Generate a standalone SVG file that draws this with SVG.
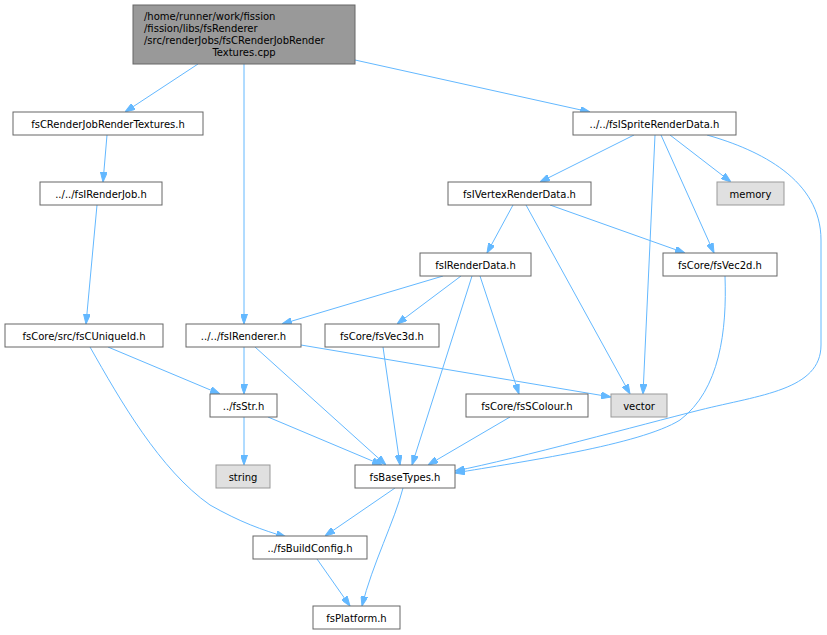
<svg xmlns="http://www.w3.org/2000/svg" width="827" height="635" viewBox="0 0 827 635">
<style>
.n rect{fill:#ffffff;stroke:#666666;stroke-width:1}
.n.g rect{fill:#e0e0e0;stroke:#999999}
.n.top rect{fill:#999999;stroke:#666666}
text{font-family:"DejaVu Sans","Liberation Sans",sans-serif;font-size:10px;fill:#000000}
.c{text-anchor:middle}
#edges path{fill:none;stroke:#63b8ff;stroke-width:1;marker-end:url(#arr)}
</style>
<defs>
<marker id="arr" viewBox="0 0 10 7" refX="10" refY="3.5" markerWidth="10" markerHeight="7" markerUnits="userSpaceOnUse" orient="auto">
<path d="M0,0 L10,3.5 L0,7 z" fill="#63b8ff" stroke="#63b8ff"/>
</marker>
</defs>
<rect width="827" height="635" fill="#ffffff"/>
<g id="edges">
<path d="M198,64 L125,112"/>
<path d="M244,64 L244,324"/>
<path d="M355,60 L590,112"/>
<path d="M107,135 L103,182"/>
<path d="M97,205 L86,324"/>
<path d="M108,347 L220,394"/>
<path d="M90,347 C120,400 160,470 210,505 C240,522 262,530 286,537"/>
<path d="M244,347 L244,394"/>
<path d="M255,347 L386,465"/>
<path d="M301,345 L611,397"/>
<path d="M244,417 L244,465"/>
<path d="M268,417 L382,465"/>
<path d="M395,488 L325,536"/>
<path d="M403,488 C395,520 372,565 362,606"/>
<path d="M317,559 L350,606"/>
<path d="M634,135 L540,182"/>
<path d="M655,135 L643,394"/>
<path d="M661,135 L714,253"/>
<path d="M670,135 L731,182"/>
<path d="M707,135 C760,150 821,180 821,240 L821,345 C821,390 760,395 700,410 C640,425 520,458 455,471"/>
<path d="M513,205 L487,253"/>
<path d="M526,205 L630,394"/>
<path d="M550,205 L685,253"/>
<path d="M725,276 C727,330 720,390 680,420 C640,445 520,462 455,473"/>
<path d="M443,276 L282,324"/>
<path d="M461,276 L397,324"/>
<path d="M472,276 L412,465"/>
<path d="M480,276 L519,394"/>
<path d="M383,347 L400,465"/>
<path d="M510,417 L428,465"/>
</g>
<g id="n_top" class="n top"><rect x="133" y="5" width="222" height="59"/>
<text x="144" y="19.5">/home/runner/work/fission</text>
<text x="144" y="31.5">/fission/libs/fsRenderer</text>
<text x="144" y="43.5">/src/renderJobs/fsCRenderJobRender</text>
<text x="244" y="55.5" class="c">Textures.cpp</text></g>
<g id="n_rjrt" class="n"><rect x="13" y="112" width="190" height="23"/><text x="108" y="127.5" class="c">fsCRenderJobRenderTextures.h</text></g>
<g id="n_irj" class="n"><rect x="40" y="182" width="122" height="23"/><text x="101" y="197.5" class="c">../../fsIRenderJob.h</text></g>
<g id="n_uid" class="n"><rect x="5" y="324" width="158" height="23"/><text x="84" y="339.5" class="c">fsCore/src/fsCUniqueId.h</text></g>
<g id="n_ir" class="n"><rect x="186" y="324" width="115" height="23"/><text x="243.5" y="339.5" class="c">../../fsIRenderer.h</text></g>
<g id="n_v3" class="n"><rect x="325" y="324" width="114" height="23"/><text x="382" y="339.5" class="c">fsCore/fsVec3d.h</text></g>
<g id="n_spr" class="n"><rect x="573" y="112" width="163" height="23"/><text x="654.5" y="127.5" class="c">../../fsISpriteRenderData.h</text></g>
<g id="n_vrd" class="n"><rect x="448" y="182" width="143" height="23"/><text x="519.5" y="197.5" class="c">fsIVertexRenderData.h</text></g>
<g id="n_mem" class="n g"><rect x="717" y="182" width="67" height="23"/><text x="750.5" y="197.5" class="c">memory</text></g>
<g id="n_ird" class="n"><rect x="420" y="253" width="111" height="23"/><text x="475.5" y="268.5" class="c">fsIRenderData.h</text></g>
<g id="n_v2" class="n"><rect x="663" y="253" width="114" height="23"/><text x="720" y="268.5" class="c">fsCore/fsVec2d.h</text></g>
<g id="n_col" class="n"><rect x="466" y="394" width="122" height="23"/><text x="527" y="409.5" class="c">fsCore/fsSColour.h</text></g>
<g id="n_vec" class="n g"><rect x="611" y="394" width="56" height="23"/><text x="639" y="409.5" class="c">vector</text></g>
<g id="n_str" class="n"><rect x="210" y="394" width="67" height="23"/><text x="243.5" y="409.5" class="c">../fsStr.h</text></g>
<g id="n_string" class="n g"><rect x="216" y="465" width="54" height="23"/><text x="243" y="480.5" class="c">string</text></g>
<g id="n_bt" class="n"><rect x="355" y="465" width="100" height="23"/><text x="405" y="480.5" class="c">fsBaseTypes.h</text></g>
<g id="n_bc" class="n"><rect x="253" y="536" width="114" height="23"/><text x="310" y="551.5" class="c">../fsBuildConfig.h</text></g>
<g id="n_pl" class="n"><rect x="313" y="606" width="87" height="23"/><text x="356.5" y="621.5" class="c">fsPlatform.h</text></g>
</svg>
